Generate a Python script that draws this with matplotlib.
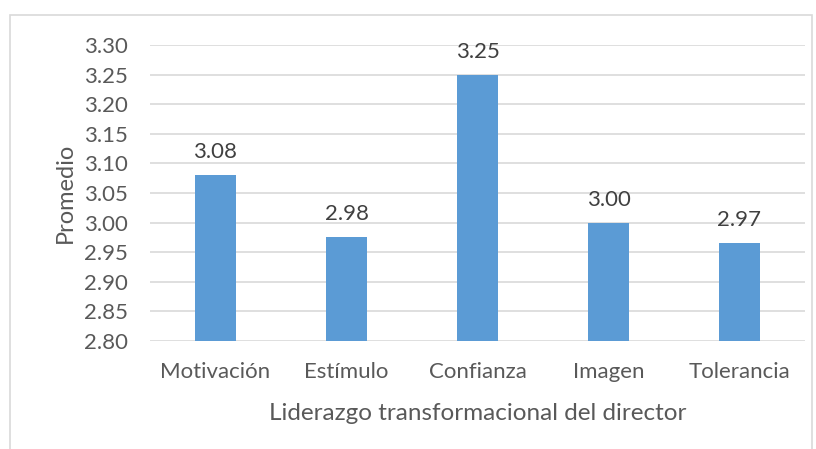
import matplotlib
matplotlib.use("Agg")
import matplotlib.pyplot as plt
from matplotlib.patches import Rectangle

categories = ["Motivación", "Estímulo", "Confianza", "Imagen", "Tolerancia"]
values = [3.08, 2.975, 3.25, 3.00, 2.966]
labels = ["3.08", "2.98", "3.25", "3.00", "2.97"]
yticks = [2.80, 2.85, 2.90, 2.95, 3.00, 3.05, 3.10, 3.15, 3.20, 3.25, 3.30]

plt.rcParams['font.family'] = ['Lato', 'DejaVu Sans']
txt = '#595959'

fig = plt.figure(figsize=(8.16, 4.49), dpi=100)
fig.patches.append(Rectangle((10/816, -0.05), 802/816, 1.05 - 15/449,
                             transform=fig.transFigure, fill=False,
                             edgecolor='#d9d9d9', linewidth=1.2))
ax = fig.add_axes([150/816, 1 - 341/449, 655/816, 296/449])

x = range(len(categories))
ax.bar(x, [v - 2.80 for v in values], bottom=2.80, width=0.32, color='#5b9bd5', zorder=3)
for xi, v, l in zip(x, values, labels):
    ax.text(xi, v + 0.022, l, ha='center', va='bottom', fontsize=16, color='#404040')

ax.set_ylim(2.80, 3.30)
ax.set_xlim(-0.5, 4.5)
ax.set_yticks(yticks)
ax.set_yticklabels([f"{t:.2f}" for t in yticks])
ax.set_xticks(list(x))
ax.set_xticklabels(categories)
ax.tick_params(axis='both', length=0, labelsize=16, colors=txt)
ax.tick_params(axis='y', pad=16)
ax.tick_params(axis='x', pad=15)
ax.grid(axis='y', color='#d9d9d9', linewidth=1.2, zorder=0)
for s in ax.spines.values():
    s.set_visible(False)
ax.set_ylabel("Promedio", fontsize=17, color=txt, labelpad=6)
ax.set_xlabel("Liderazgo transformacional del director", fontsize=17.5, color=txt, labelpad=15)

fig.savefig("out.png", dpi=100)
